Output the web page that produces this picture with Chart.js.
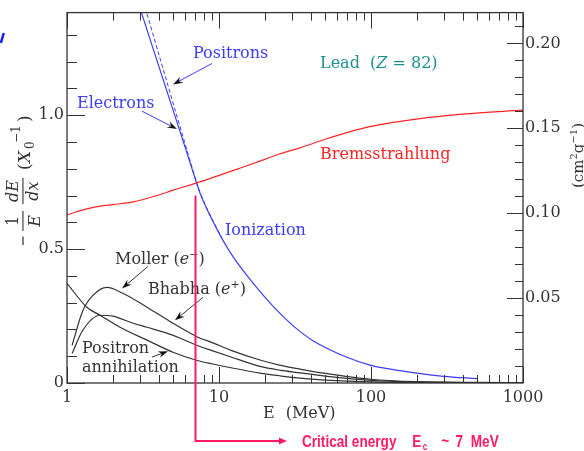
<!DOCTYPE html>
<html>
<head>
<meta charset="utf-8">
<script src="https://cdn.jsdelivr.net/npm/chart.js@4.4.1/dist/chart.umd.min.js"></script>
<style>
  html, body { margin: 0; padding: 0; background: #ffffff; }
  #wrap { width: 584px; height: 451px; position: relative; }
</style>
</head>
<body>
<div id="wrap"><canvas id="chart" width="584" height="451"></canvas></div>
<script>
// Fractional energy loss per radiation length in lead (Z = 82) versus energy.
const energyTicks = [1, 10, 100, 1000];          // MeV, labelled decades
const lossTicks = [0, 0.5, 1.0];                 // X0^-1
const massTicks = [0.05, 0.10, 0.15, 0.20];      // cm^2 g^-1
const leadX0 = 6.34;                             // g cm^-2, links the two vertical scales
const lossMax = 1.383;
const criticalEnergy = 7;                        // MeV

const bremsEnergy = [1, 1.35, 1.73, 2.0, 2.72, 4, 5, 7.13, 10, 13.7, 20, 25, 34, 50, 69.5, 100, 210, 400, 1000];
const bremsLoss   = [0.628, 0.65, 0.662, 0.666, 0.676, 0.702, 0.72, 0.747, 0.775, 0.802, 0.835, 0.855, 0.878, 0.91, 0.935, 0.958, 0.987, 1.004, 1.019];

const electronEnergy = [2.93, 3.10, 3.79, 4.41, 4.98, 5.69, 6.44, 7.13, 7.5, 8.73, 10.46, 12.36, 16.0, 20.1, 25.2, 32.5, 41.5, 69.5, 98.5, 200, 300, 500];
const electronLoss   = [1.424, 1.380, 1.227, 1.112, 1.020, 0.919, 0.824, 0.746, 0.709, 0.625, 0.539, 0.472, 0.387, 0.320, 0.260, 0.202, 0.158, 0.096, 0.067, 0.037, 0.025, 0.016];

const positronEnergy = [3.16, 3.35, 4.02, 4.61, 5.14, 5.80, 6.50, 7.13, 7.5, 8.73, 10.46];
const positronLoss   = [1.424, 1.380, 1.227, 1.112, 1.020, 0.919, 0.824, 0.748, 0.712, 0.628, 0.541];

const mollerEnergy = [1.08, 1.27, 1.48, 1.83, 2.33, 3.36, 4.98, 7.2, 9.1, 12, 18.6, 25, 34, 50, 100, 200, 500, 1000];
const mollerLoss   = [0.141, 0.27, 0.327, 0.357, 0.335, 0.283, 0.223, 0.172, 0.15, 0.122, 0.086, 0.067, 0.052, 0.036, 0.014, 0.005, 0.002, 0.001];

const bhabhaEnergy = [1.08, 1.27, 1.65, 2.0, 2.72, 3.36, 5.0, 7.2, 9.1, 12, 18.6, 25, 34, 50, 100, 200, 500, 1000];
const bhabhaLoss   = [0.11, 0.197, 0.253, 0.25, 0.223, 0.208, 0.178, 0.14, 0.12, 0.097, 0.062, 0.048, 0.038, 0.026, 0.01, 0.004, 0.0015, 0.001];

const annihilationEnergy = [1, 1.35, 1.65, 2.23, 3.36, 4.98, 7.2, 9.1, 12, 18.6, 25, 34, 50, 100, 200, 1000];
const annihilationLoss   = [0.372, 0.283, 0.253, 0.208, 0.16, 0.115, 0.084, 0.071, 0.057, 0.037, 0.027, 0.018, 0.011, 0.004, 0.002, 0.0005];

const SERIF = "'DejaVu Serif', serif";
const INK = '#333333';
const BLUE = '#3c3cf6';
const RED = '#ff2424';
const TEAL = '#1f8f8f';
const PINK = '#ff1a64';

const pts = (xs, ys) => xs.map((x, i) => ({ x, y: ys[i] }));
const curve = (label, xs, ys, color, extra) => Object.assign({
  label, data: pts(xs, ys), showLine: true, borderColor: color, borderWidth: 1.2,
  pointRadius: 0, cubicInterpolationMode: 'monotone', fill: false, yAxisID: 'y'
}, extra || {});

function drawRuns(ctx, x, y, parts, color) {
  ctx.fillStyle = color;
  ctx.textAlign = 'left';
  ctx.textBaseline = 'alphabetic';
  let cx = x;
  for (const [t, font, dy, dx] of parts) {
    ctx.font = font;
    cx += dx || 0;
    ctx.fillText(t, cx, y + (dy || 0));
    cx += ctx.measureText(t).width;
  }
  return cx;
}

function arrow(ctx, x1, y1, x2, y2, shaft) {
  const a = Math.atan2(y2 - y1, x2 - x1), c = Math.cos(a), s = Math.sin(a);
  const L = 10, W = 3.4;
  ctx.strokeStyle = shaft; ctx.lineWidth = 1;
  ctx.beginPath(); ctx.moveTo(x1, y1); ctx.lineTo(x2 - 6 * c, y2 - 6 * s); ctx.stroke();
  ctx.fillStyle = '#111';
  ctx.beginPath();
  ctx.moveTo(x2, y2);
  ctx.lineTo(x2 - L * c - W * s, y2 - L * s + W * c);
  ctx.lineTo(x2 - 0.65 * L * c, y2 - 0.65 * L * s);
  ctx.lineTo(x2 - L * c + W * s, y2 - L * s - W * c);
  ctx.closePath(); ctx.fill();
}

const decorations = {
  id: 'decorations',
  afterDraw(chart) {
    const ctx = chart.ctx;
    const xs = chart.scales.x, yl = chart.scales.y, yr = chart.scales.y2;
    const { left, right, top, bottom } = chart.chartArea;
    const P = (e, v) => [xs.getPixelForValue(e), yl.getPixelForValue(v)];
    ctx.save();

    // frame
    ctx.strokeStyle = INK; ctx.lineWidth = 1.3;
    ctx.strokeRect(left, top, right - left, bottom - top);

    // inward tick marks
    ctx.lineWidth = 1;
    ctx.beginPath();
    for (let d = 1; d <= 1000; d *= 10) {
      for (let m = 1; m < 10; m++) {
        const v = d * m;
        if (v > 1000) break;
        const px = Math.round(xs.getPixelForValue(v)) + 0.5;
        const len = m === 1 ? 16 : 8;
        ctx.moveTo(px, bottom); ctx.lineTo(px, bottom - len);
        ctx.moveTo(px, top); ctx.lineTo(px, top + len);
      }
    }
    for (let k = 0; k <= 13; k++) {
      const v = k / 10;
      const py = Math.round(yl.getPixelForValue(v)) + 0.5;
      const len = (k % 5 === 0) ? 18 : 10;
      ctx.moveTo(left, py); ctx.lineTo(left + len, py);
    }
    for (let k = 1; k <= 21; k++) {
      const v = k / 100;
      const py = Math.round(yr.getPixelForValue(v)) + 0.5;
      const len = (k % 5 === 0) ? 16 : 8;
      ctx.moveTo(right, py); ctx.lineTo(right - len, py);
    }
    ctx.stroke();

    const f16 = `16px ${SERIF}`, i16 = `italic 16px ${SERIF}`, s11 = `11px ${SERIF}`;

    // curve labels
    let p = P(6.74, 1.212); drawRuns(ctx, p[0], p[1], [['Positrons', f16]], BLUE);
    p = P(1.163, 1.026); drawRuns(ctx, p[0], p[1], [['Electrons', f16]], BLUE);
    p = P(46.2, 1.178); drawRuns(ctx, p[0], p[1], [['Lead  (', f16], ['Z', i16], [' = 82)', f16]], TEAL);
    p = P(46.2, 0.836); drawRuns(ctx, p[0], p[1], [['Bremsstrahlung', f16]], RED);
    p = P(10.95, 0.554); drawRuns(ctx, p[0], p[1], [['Ionization', f16]], BLUE);
    p = P(2.07, 0.446); drawRuns(ctx, p[0], p[1], [['Moller (', f16], ['e', i16], ['\u2212', s11, -6], [')', f16]], INK);
    p = P(3.41, 0.331); drawRuns(ctx, p[0], p[1], [['Bhabha (', f16], ['e', i16], ['+', s11, -6], [')', f16]], INK);
    p = P(1.255, 0.1115); drawRuns(ctx, p[0], p[1], [['Positron', f16]], INK);
    p = P(1.255, 0.0409); drawRuns(ctx, p[0], p[1], [['annihilation', f16]], INK);

    // pointers
    const ar = (a, b, col) => { const s = P(a[0], a[1]), t = P(b[0], b[1]); arrow(ctx, s[0], s[1], t[0], t[1], col); };
    ar([8.99, 1.193], [4.98, 1.115], BLUE);
    ar([3.11, 1.015], [5.29, 0.948], BLUE);
    ar([3.41, 0.435], [2.30, 0.353], INK);
    ar([7.86, 0.320], [5.13, 0.234], INK);
    ar([3.62, 0.0967], [4.62, 0.119], INK);

    // critical energy marker
    const cx = Math.round(xs.getPixelForValue(criticalEnergy)) + 0.5;
    const cTop = yl.getPixelForValue(0.70);
    const cY = bottom + 58;
    const cEnd = xs.getPixelForValue(28);
    ctx.strokeStyle = PINK; ctx.lineWidth = 2;
    ctx.beginPath(); ctx.moveTo(cx, cTop); ctx.lineTo(cx, cY); ctx.lineTo(cEnd - 6, cY); ctx.stroke();
    ctx.fillStyle = PINK;
    ctx.beginPath(); ctx.moveTo(cEnd, cY); ctx.lineTo(cEnd - 8, cY - 3.5); ctx.lineTo(cEnd - 8, cY + 3.5); ctx.closePath(); ctx.fill();
    ctx.save();
    ctx.translate(cEnd + 15, cY + 6);
    ctx.scale(0.8, 1);
    const sb = "bold 17px 'Liberation Sans', Arial, sans-serif";
    const sbs = "bold 10px 'Liberation Sans', Arial, sans-serif";
    ctx.fillStyle = PINK; ctx.textAlign = 'left'; ctx.textBaseline = 'alphabetic';
    ctx.font = sb; ctx.fillText('Critical energy', 0, 0);
    ctx.fillText('E', 138, 0);
    ctx.font = sbs; ctx.fillText('c', 151, 3);
    ctx.font = sb; ctx.fillText('~', 174, -1);
    ctx.fillText('7', 192, 0);
    ctx.fillText('MeV', 211, 0);
    ctx.restore();

    // horizontal axis title
    drawRuns(ctx, 263, 418, [['E', f16], ['(MeV)', f16, 0, 11]], INK);

    // left vertical title:  -(1/E) dE/dx  (X0^-1)
    ctx.save();
    ctx.translate(23, 245);
    ctx.rotate(-Math.PI / 2);
    ctx.fillStyle = INK;
    ctx.fillRect(0, -0.6, 8.5, 1.2);
    ctx.fillRect(14, -0.6, 20, 1.1);
    ctx.fillRect(41, -0.6, 26, 1.1);
    ctx.textAlign = 'center'; ctx.textBaseline = 'alphabetic';
    ctx.font = f16; ctx.fillText('1', 24, -5);
    ctx.font = i16; ctx.fillText('E', 24, 17);
    ctx.fillText('dE', 54, -5);
    ctx.fillText('dx', 54, 15);
    ctx.textAlign = 'left';
    ctx.font = `17px ${SERIF}`; ctx.fillText('(', 75, 7);
    ctx.font = `italic 17px ${SERIF}`; ctx.fillText('X', 82, 7);
    ctx.font = `12px ${SERIF}`; ctx.fillText('0', 96, 11);
    ctx.fillText('\u22121', 102, -3);
    ctx.font = `17px ${SERIF}`; ctx.fillText(')', 123, 7);
    ctx.restore();

    // right vertical title: (cm^2 g^-1)
    ctx.save();
    ctx.translate(583, 188);
    ctx.rotate(-Math.PI / 2);
    drawRuns(ctx, 0, 0, [['(cm', `15px ${SERIF}`], ['2', `10px ${SERIF}`, -6], ['g', `15px ${SERIF}`], ['\u22121', `10px ${SERIF}`, -6], [')', `15px ${SERIF}`]], INK);
    ctx.restore();

    // stray blue stroke at the top-left edge
    ctx.strokeStyle = '#1a1aff'; ctx.lineWidth = 2.5;
    ctx.beginPath(); ctx.moveTo(3.8, 33); ctx.lineTo(0.8, 43); ctx.stroke();

    ctx.restore();
  }
};

const tickFont = { family: SERIF, size: 16 };

new Chart(document.getElementById('chart'), {
  type: 'scatter',
  data: {
    datasets: [
      curve('Positron annihilation', annihilationEnergy, annihilationLoss, INK),
      curve('Bhabha (e+)', bhabhaEnergy, bhabhaLoss, INK),
      curve('Moller (e-)', mollerEnergy, mollerLoss, INK),
      curve('Bremsstrahlung', bremsEnergy, bremsLoss, RED),
      curve('Positrons', positronEnergy, positronLoss, BLUE, { borderDash: [4, 2.5], borderWidth: 1 }),
      curve('Electrons', electronEnergy, electronLoss, BLUE)
    ]
  },
  options: {
    responsive: false,
    animation: false,
    events: [],
    layout: { padding: { top: 11, left: 0, right: 0, bottom: 0 } },
    plugins: { legend: { display: false }, tooltip: { enabled: false } },
    scales: {
      x: {
        type: 'logarithmic', position: 'bottom', min: 1, max: 1000,
        afterBuildTicks: s => { s.ticks = energyTicks.map(v => ({ value: v })); },
        afterFit: s => { s.height = 68; },
        ticks: { callback: v => String(v), font: tickFont, color: INK, padding: 5, maxRotation: 0, autoSkip: false },
        grid: { display: false, drawTicks: false },
        border: { display: false }
      },
      y: {
        type: 'linear', position: 'left', min: 0, max: lossMax,
        afterBuildTicks: s => { s.ticks = lossTicks.map(v => ({ value: v })); },
        afterFit: s => { s.width = 67; },
        ticks: { callback: v => v === 0 ? '0' : v.toFixed(1), font: tickFont, color: INK, padding: 3, autoSkip: false },
        grid: { display: false, drawTicks: false },
        border: { display: false }
      },
      y2: {
        type: 'linear', position: 'right', min: 0, max: lossMax / leadX0,
        afterBuildTicks: s => { s.ticks = massTicks.map(v => ({ value: v })); },
        afterFit: s => { s.width = 61; },
        ticks: { callback: v => v.toFixed(2), font: tickFont, color: INK, padding: 2, autoSkip: false },
        grid: { display: false, drawTicks: false },
        border: { display: false }
      }
    }
  },
  plugins: [decorations]
});
</script>
</body>
</html>
